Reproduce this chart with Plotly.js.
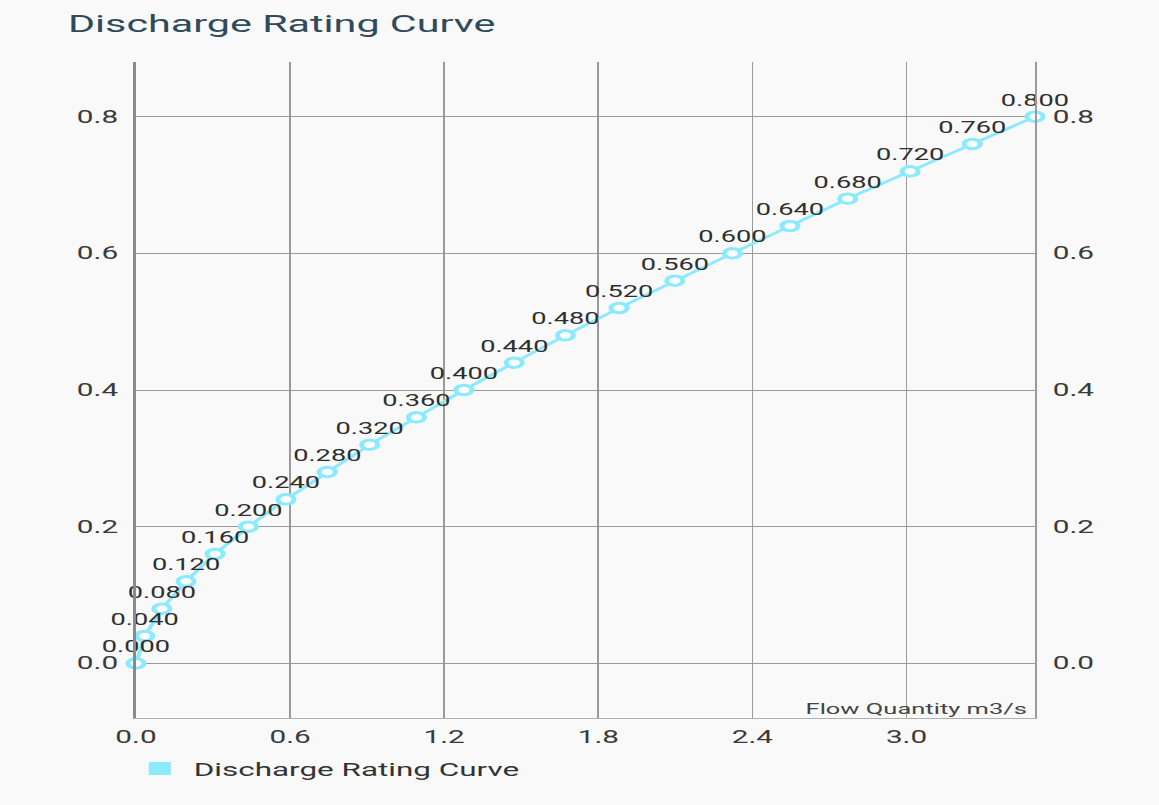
<!DOCTYPE html>
<html>
<head>
<meta charset="utf-8">
<script src="https://cdn.plot.ly/plotly-3.0.1.min.js"></script>
<style>
  html, body { margin: 0; padding: 0; background: #f9f9f9; overflow: hidden; }
  #chart { width: 682px; height: 805px; transform: scaleX(1.69941); transform-origin: 0 0; }
</style>
</head>
<body>
<div id="chart"></div>
<script>
// Data
const chartTitle = "Discharge Rating Curve";
const seriesName = "Discharge Rating Curve";
const xAxisLabel = "Flow Quantity m3/s";
const flowQuantity = [0.000, 0.034, 0.101, 0.195, 0.308, 0.438, 0.584, 0.745, 0.910, 1.092, 1.277,
                      1.473, 1.672, 1.881, 2.098, 2.322, 2.546, 2.771, 3.014, 3.256, 3.500];
const stageLevel = [0.000, 0.040, 0.080, 0.120, 0.160, 0.200, 0.240, 0.280, 0.320, 0.360, 0.400,
                    0.440, 0.480, 0.520, 0.560, 0.600, 0.640, 0.680, 0.720, 0.760, 0.800];
const pointLabels = stageLevel.map(v => v.toFixed(3));

const FONT = "Roboto, 'Noto Sans', sans-serif";
const LINE_COLOR = "#8CEAFF";

const traces = [
  {
    type: "scatter",
    mode: "lines+markers+text",
    x: flowQuantity,
    y: stageLevel,
    text: pointLabels,
    textposition: "top center",
    textfont: { family: FONT, size: 16, color: "#2e2e2e" },
    cliponaxis: false,
    line: { color: LINE_COLOR, width: 2.5 },
    marker: { symbol: "circle", size: 9.5, color: "#ffffff", line: { color: LINE_COLOR, width: 3 } },
    showlegend: false,
    hoverinfo: "x+y"
  },
  {
    // legend entry only (square swatch like the reference legend)
    type: "scatter",
    mode: "markers",
    x: [null],
    y: [null],
    yaxis: "y2",
    name: seriesName,
    marker: { symbol: "square", size: 13, color: LINE_COLOR, line: { width: 0 } },
    showlegend: true,
    hoverinfo: "skip"
  }
];

const yCommon = {
  range: [-0.08, 0.88],
  tick0: 0,
  dtick: 0.2,
  tickformat: ".1f",
  tickfont: { family: FONT, size: 17.5, color: "#3a3a3a" },
  ticks: "",
  fixedrange: true
};

const layout = {
  width: 682,
  height: 805,
  paper_bgcolor: "#f9f9f9",
  plot_bgcolor: "#f9f9f9",
  margin: { l: 80, r: 73, t: 62, b: 87 },
  title: {
    text: chartTitle,
    font: { family: FONT, size: 24.3, color: "#2f4b5b" },
    xref: "container", x: 40 / 682, xanchor: "left",
    yref: "container", y: 1 - 23.5 / 805, yanchor: "middle"
  },
  xaxis: {
    range: [0, 3.5],
    tick0: 0,
    dtick: 0.6,
    tickformat: ".1f",
    tickfont: { family: FONT, size: 17.5, color: "#3a3a3a" },
    ticks: "",
    ticklabelstandoff: 3,
    showgrid: true,
    gridcolor: "#9a9a9a",
    gridwidth: 1,
    zeroline: false,
    showline: true,
    linecolor: "#b0b0b0",
    linewidth: 1,
    fixedrange: true
  },
  yaxis: Object.assign({}, yCommon, {
    side: "left",
    showgrid: true,
    gridcolor: "#9a9a9a",
    gridwidth: 1,
    zeroline: false,
    showline: true,
    linecolor: "#8a8a8a",
    linewidth: 2,
    ticklabelstandoff: 5
  }),
  yaxis2: Object.assign({}, yCommon, {
    overlaying: "y",
    side: "right",
    showgrid: false,
    zeroline: false,
    showline: true,
    linecolor: "#9a9a9a",
    linewidth: 1,
    ticklabelstandoff: 6
  }),
  showlegend: true,
  legend: {
    orientation: "h",
    xref: "container", x: 74 / 682, xanchor: "left",
    yref: "container", y: 1 - 769 / 805, yanchor: "middle",
    font: { family: FONT, size: 18.5, color: "#333333" },
    bgcolor: "rgba(0,0,0,0)"
  },
  annotations: [
    {
      text: xAxisLabel,
      xref: "paper", x: 1, xanchor: "right", xshift: -3,
      yref: "paper", y: 0, yanchor: "bottom", yshift: -2,
      showarrow: false,
      font: { family: FONT, size: 15, color: "#444444" }
    }
  ]
};

Plotly.newPlot("chart", traces, layout, { displayModeBar: false, staticPlot: true });
</script>
</body>
</html>
